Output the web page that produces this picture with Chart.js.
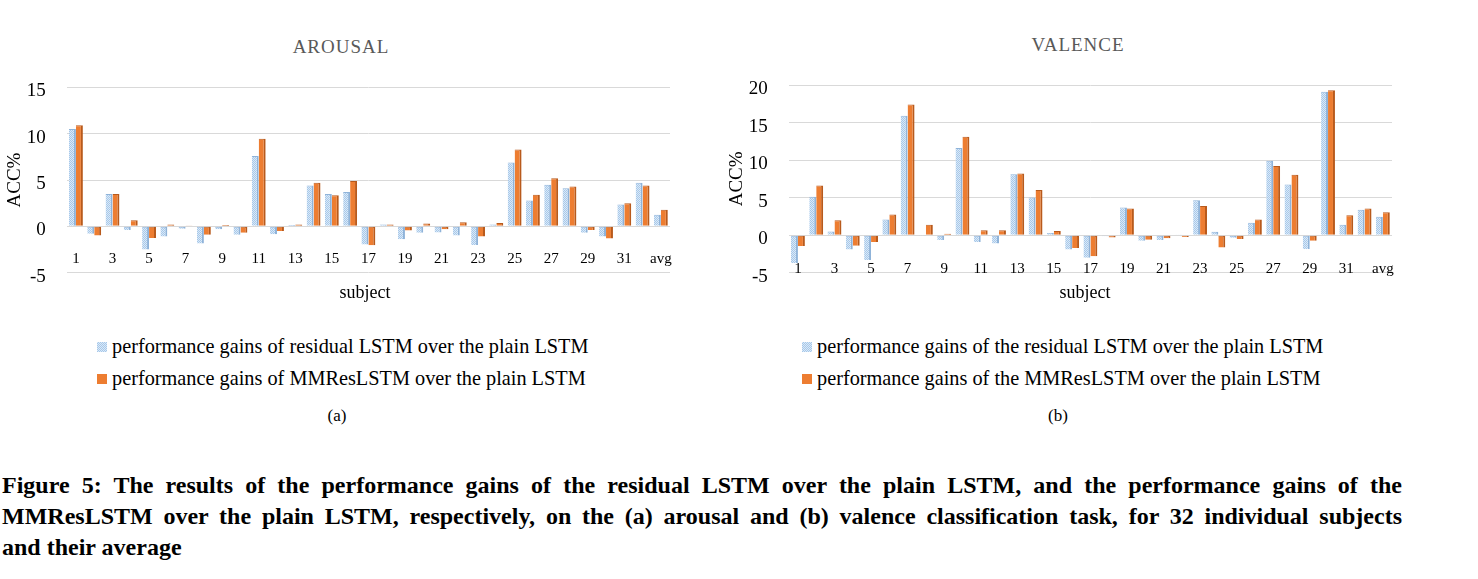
<!DOCTYPE html>
<html>
<head>
<meta charset="utf-8">
<script src="https://cdn.jsdelivr.net/npm/chart.js@4"></script>
<style>
  body { margin: 0; background: #fff; width: 1478px; height: 579px; position: relative; overflow: hidden; font-family: "Liberation Serif", serif; }
  canvas { position: absolute; }
  .title { position: absolute; width: 300px; text-align: center; font-size: 19px; letter-spacing: 1px; color: #595959; line-height: 24px; }
  .xtitle { position: absolute; width: 200px; text-align: center; font-size: 18px; line-height: 22px; color: #000; }
  .legend { position: absolute; font-size: 20.3px; line-height: 24px; color: #000; white-space: nowrap; }
  .legend .row { position: absolute; left: 0; white-space: nowrap; }
  .legend .box { display: inline-block; width: 10px; height: 10px; margin-right: 5px; vertical-align: 1px; }
  .box.blue { background: repeating-conic-gradient(#a6c8ea 0 25%, #dbe9f7 0 50%) 0 0 / 2px 2px; }
  .box.orange { background: #ed7d31; }
  .sub { position: absolute; width: 60px; text-align: center; font-size: 17px; line-height: 20px; }
  .caption { position: absolute; left: 2px; top: 470px; width: 1400px; font-weight: bold; font-size: 24px; line-height: 31px; color: #000; }
  .caption .just { text-align: justify; text-align-last: justify; white-space: nowrap; }
</style>
</head>
<body>

<div class="title" style="left:191px; top:35px;">AROUSAL</div>
<div class="title" style="left:928px; top:33px;">VALENCE</div>

<canvas id="arousalChart" width="700" height="230" style="left:0; top:60px;"></canvas>
<canvas id="valenceChart" width="700" height="230" style="left:722px; top:60px;"></canvas>

<div class="xtitle" style="left:265px; top:281px;">subject</div>
<div class="xtitle" style="left:985px; top:281px;">subject</div>

<div class="legend" style="left:97px; top:0;">
  <div class="row" style="top:334px;"><span class="box blue"></span>performance gains of residual LSTM over the plain LSTM</div>
  <div class="row" style="top:366px;"><span class="box orange"></span>performance gains of MMResLSTM over the plain LSTM</div>
</div>
<div class="legend" style="left:802px; top:0;">
  <div class="row" style="top:334px;"><span class="box blue"></span>performance gains of the residual LSTM over the plain LSTM</div>
  <div class="row" style="top:366px;"><span class="box orange"></span>performance gains of the MMResLSTM over the plain LSTM</div>
</div>

<div class="sub" style="left:307px; top:406px;">(a)</div>
<div class="sub" style="left:1028px; top:406px;">(b)</div>

<div class="caption">
<div class="just">Figure 5: The results of the performance gains of the residual LSTM over the plain LSTM, and the performance gains of the</div>
<div class="just">MMResLSTM over the plain LSTM, respectively, on the (a) arousal and (b) valence classification task, for 32 individual subjects</div>
<div>and their average</div>
</div>

<script>
const subjects = ["1", "2", "3", "4", "5", "6", "7", "8", "9", "10", "11", "12", "13", "14", "15", "16",
    "17", "18", "19", "20", "21", "22", "23", "24", "25", "26", "27", "28", "29", "30", "31", "32", "avg"];

const arousalResidual = [10.5, -0.8, 3.5, -0.4, -2.5, -1.1, -0.25, -1.85, -0.3, -0.9, 7.6, -0.85, 0.15, 4.4, 3.5, 3.7,
    -1.95, 0.2, -1.4, -0.7, -0.65, -1.0, -2.0, 0.2, 6.9, 2.8, 4.5, 4.1, -0.7, -1.1, 2.35, 4.7, 1.25];
const arousalMM = [10.9, -1.0, 3.5, 0.65, -1.25, 0.2, 0.1, -0.9, 0.15, -0.7, 9.45, -0.5, 0.2, 4.7, 3.35, 4.9,
    -2.05, 0.2, -0.45, 0.3, -0.3, 0.45, -1.1, 0.35, 8.3, 3.4, 5.2, 4.3, -0.4, -1.3, 2.5, 4.4, 1.8];

const valenceResidual = [-3.7, 5.1, 0.5, -1.9, -3.3, 2.1, 15.9, -0.1, -0.65, 11.6, -0.9, -1.1, 8.1, 5.0, 0.3, -1.9,
    -3.0, -0.15, 3.7, -0.75, -0.65, 0.1, 4.65, 0.45, -0.35, 1.65, 9.9, 6.75, -1.85, 19.1, 1.4, 3.4, 2.45];
const valenceMM = [-1.45, 6.6, 2.0, -1.4, -0.9, 2.75, 17.4, 1.4, 0.2, 13.1, 0.65, 0.65, 8.2, 6.0, 0.55, -1.7,
    -2.8, -0.3, 3.55, -0.6, -0.4, -0.25, 3.9, -1.65, -0.5, 2.1, 9.2, 8.05, -0.75, 19.3, 2.65, 3.55, 3.05];

const arousalTicks = { min: -5, max: 15, step: 5 };
const valenceTicks = { min: -5, max: 20, step: 5 };

const serif = "'Liberation Serif', 'Times New Roman', serif";

// small checker pattern for the light blue bars
function makeBluePattern() {
    const c = document.createElement('canvas');
    c.width = 2;
    c.height = 2;
    const g = c.getContext('2d');
    g.fillStyle = '#dbe9f7';
    g.fillRect(0, 0, 2, 2);
    g.fillStyle = '#a6c8ea';
    g.fillRect(0, 0, 1, 1);
    g.fillRect(1, 1, 1, 1);
    return g.createPattern(c, 'repeat');
}
const bluePattern = makeBluePattern();

function buildChart(canvasId, residual, mm, range, labelAt, padTop) {
    const ctx = document.getElementById(canvasId).getContext('2d');
    return new Chart(ctx, {
        type: 'bar',
        data: {
            labels: subjects,
            datasets: [{
                label: 'residual',
                data: residual,
                backgroundColor: bluePattern,
                borderColor: '#8fb3d9',
                borderWidth: { top: 1, right: 2, bottom: 0, left: 0 },
                borderSkipped: false,
                categoryPercentage: 0.76,
                barPercentage: 1.0
            }, {
                label: 'MMResLSTM',
                data: mm,
                backgroundColor: '#ed7d31',
                borderColor: '#b85a1c',
                borderWidth: { top: 1, right: 2, bottom: 0, left: 0 },
                borderSkipped: false,
                categoryPercentage: 0.76,
                barPercentage: 1.0
            }]
        },
        options: {
            responsive: false,
            animation: false,
            layout: { padding: { top: padTop, right: 30, bottom: 17.3, left: 0 } },
            plugins: {
                legend: { display: false },
                tooltip: { enabled: false }
            },
            scales: {
                x: {
                    position: { y: labelAt },
                    grid: { display: false },
                    border: { display: false },
                    afterFit: (s) => {
                        s.height = 0;
                        s.paddingLeft = 0;
                        s.paddingRight = 0;
                    },
                    ticks: {
                        autoSkip: false,
                        maxRotation: 0,
                        padding: 0,
                        color: '#000',
                        font: { family: serif, size: 15 },
                        callback: (v, i) => (i % 2 === 0 ? subjects[i] : '')
                    }
                },
                y: {
                    min: range.min,
                    max: range.max,
                    grid: { color: '#d9d9d9', drawTicks: false },
                    border: { display: false },
                    afterFit: (s) => {
                        s.width = 66.8;
                        s.paddingTop = 0;
                        s.paddingBottom = 0;
                    },
                    ticks: {
                        stepSize: range.step,
                        padding: 21,
                        labelOffset: 4,
                        color: '#000',
                        font: { family: serif, size: 19 }
                    },
                    title: {
                        display: true,
                        text: 'ACC%',
                        color: '#000',
                        font: { family: serif, size: 19 },
                        padding: { top: 4, bottom: 0 }
                    }
                }
            }
        }
    });
}

buildChart('arousalChart', arousalResidual, arousalMM, arousalTicks, -1.67, 27.3);
buildChart('valenceChart', valenceResidual, valenceMM, valenceTicks, -2.3, 25);
</script>
</body>
</html>
